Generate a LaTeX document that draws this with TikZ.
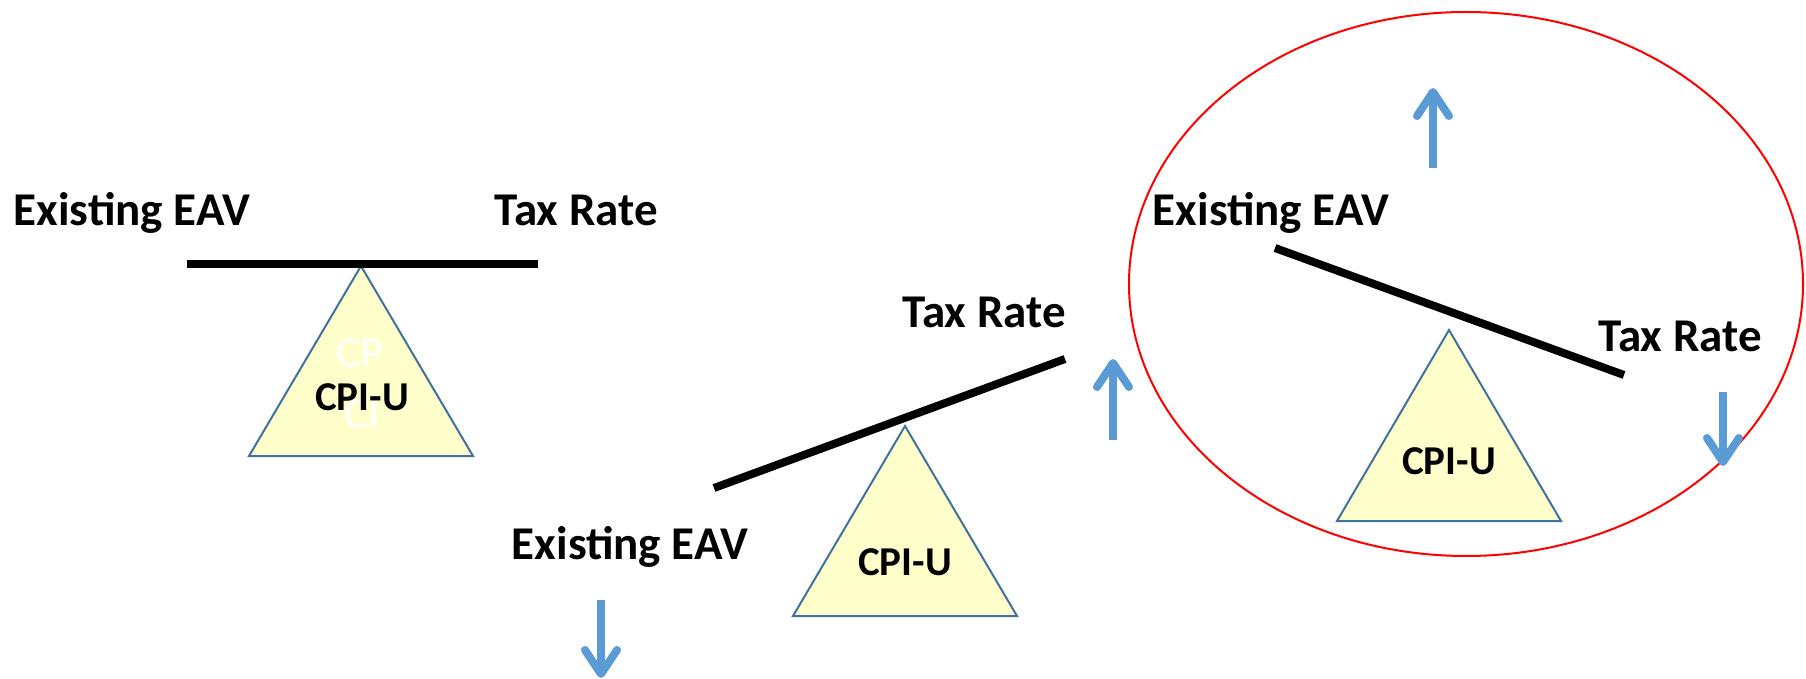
\documentclass[tikz,border=0pt]{standalone}
\usepackage{fontspec}
\setmainfont{Carlito}
\usetikzlibrary{arrows.meta}
\definecolor{arrowblue}{HTML}{5B9BD5}
\definecolor{fulcrumfill}{HTML}{FFFFCC}
\definecolor{fulcrumline}{HTML}{41719C}
\begin{document}
\begin{tikzpicture}[x=0.5pt, y=-0.5pt,
    label/.style={font=\fontsize{23.5}{28}\selectfont\bfseries, anchor=base, inner sep=0pt},
    cpi/.style={font=\fontsize{20.5}{24}\selectfont\bfseries, anchor=base, inner sep=0pt},
    ghost/.style={font=\fontsize{22}{26}\selectfont, white, inner sep=0pt},
    beam/.style={line width=4pt},
    fulcrum/.style={fill=fulcrumfill, draw=fulcrumline, line width=1pt},
    move/.style={arrowblue, line width=4pt, -{Straight Barb[round, length=12pt, width=16pt]}}]
    \useasboundingbox (0,0) rectangle (1806,679);

    % balanced
    \coordinate (apexA) at (361,266);
    \filldraw [fulcrum] (apexA) -- ++(-112,190) -- ++(224,0) -- cycle;
    \draw [beam] (187,264) -- (538,264);
    \node [ghost] (ghostA) at (360,353) {CP};
    \node [ghost] (ghostB) at (362,414) {CI};
    \node [cpi] (cpiA) at (362,411) {CPI-U};
    \node [label] (eavA) at (132,226) {Existing EAV};
    \node [label] (rateA) at (576,226) {Tax Rate};

    % tax rate up
    \coordinate (apexB) at (905,426);
    \filldraw [fulcrum] (apexB) -- ++(-112,190) -- ++(224,0) -- cycle;
    \draw [beam] (714,488) -- (1065,359);
    \node [cpi] (cpiB) at (905,575) {CPI-U};
    \node [label] (eavB) at (630,559) {Existing EAV};
    \node [label] (rateB) at (984,328) {Tax Rate};
    \coordinate (downB1) at (601,600);
    \coordinate (downB2) at (601,678);
    \draw [move] (downB1) -- (downB2);
    \coordinate (upB1) at (1113,440);
    \coordinate (upB2) at (1113,359);
    \draw [move] (upB1) -- (upB2);

    % tax rate down
    \draw [red, line width=1pt] (1466,284) ellipse [x radius=168.5pt, y radius=136pt];
    \coordinate (apexC) at (1449,330);
    \filldraw [fulcrum] (apexC) -- ++(-112,191) -- ++(224,0) -- cycle;
    \draw [beam] (1275,248) -- (1624,375);
    \node [cpi] (cpiC) at (1449,474) {CPI-U};
    \node [label] (eavC) at (1271,226) {Existing EAV};
    \node [label] (rateC) at (1680,352) {Tax Rate};
    \coordinate (upC1) at (1433,168);
    \coordinate (upC2) at (1433,88);
    \draw [move] (upC1) -- (upC2);
    \coordinate (downC1) at (1723,392);
    \coordinate (downC2) at (1723,466);
    \draw [move] (downC1) -- (downC2);
\end{tikzpicture}
\end{document}
